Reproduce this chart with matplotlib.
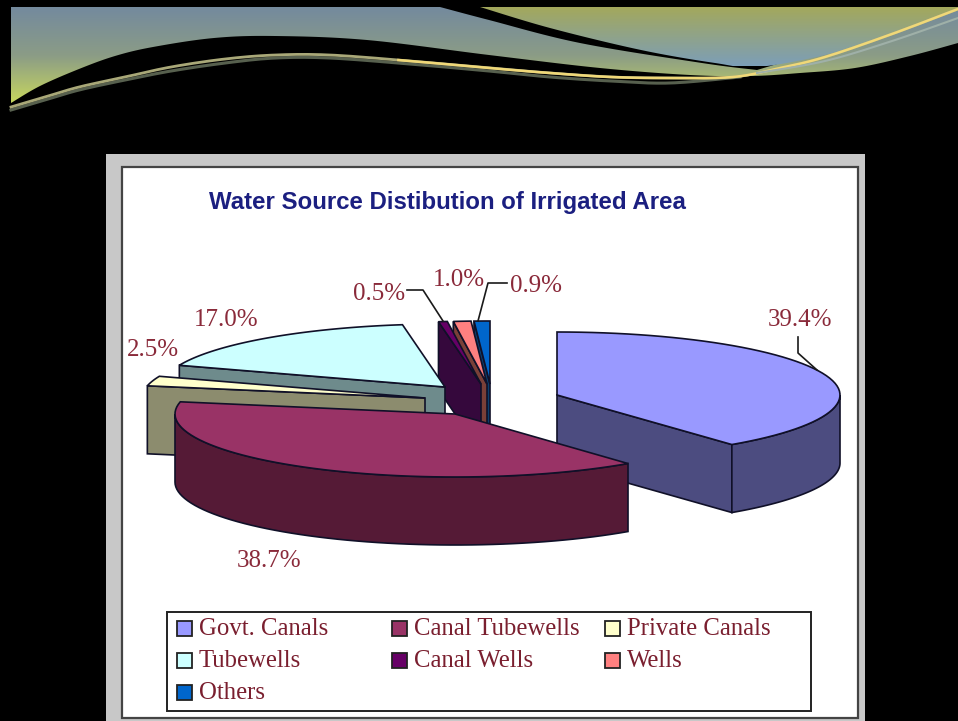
# Water source pie slide, exploded 3D look drawn by hand
import numpy as np
import matplotlib
matplotlib.use("Agg")
import matplotlib.pyplot as plt
from matplotlib.patches import Polygon, Rectangle
from matplotlib.colors import LinearSegmentedColormap

# chart data
categories = ["Govt. Canals", "Canal Tubewells", "Private Canals",
              "Tubewells", "Canal Wells", "Wells", "Others"]
shares = [39.4, 38.7, 2.5, 17.0, 0.5, 1.0, 0.9]
share_labels = ["39.4%", "38.7%", "2.5%", "17.0%", "0.5%", "1.0%", "0.9%"]
top_colors = ["#9999ff", "#993366", "#ffffcc", "#ccffff", "#660066", "#ff8080", "#0066cc"]
wall_colors = ["#4c4c80", "#551a36", "#8c8c6e", "#6e8b8c", "#35083c", "#7a4038", "#0a3f6e"]

# layout of the exploded slices, pixels
apex = [(557, 395), (455, 414), (425, 398), (445, 387), (481, 384), (487, 384), (490, 384)]
radius_x = [283, 280, 283, 283, 283, 283, 283]
RY, DEPTH = 63, 68
draw_order = [6, 5, 4, 3, 2, 0, 1]
label_pos = [(800, 319), (269, 560), (153, 349), (226, 319), (379, 293), (459, 279), (536, 285)]
INK = "#101028"
LABEL = "#8a2a3a"
SERIF = "Liberation Serif"

fig = plt.figure(figsize=(9.58, 7.21), dpi=100, facecolor="black")
ax = fig.add_axes([0, 0, 1, 1])
ax.set_xlim(0, 958)
ax.set_ylim(721, 0)
ax.axis("off")


def smooth(pts, n=14):
    # catmull-rom through the points
    pts = np.array(pts, float)
    p = np.vstack([pts[0], pts, pts[-1]])
    out = []
    for i in range(1, len(p) - 2):
        t = np.linspace(0, 1, n, endpoint=False)[:, None]
        out.append(0.5 * (2 * p[i] + (p[i + 1] - p[i - 1]) * t
                          + (2 * p[i - 1] - 5 * p[i] + 4 * p[i + 1] - p[i + 2]) * t ** 2
                          + (3 * p[i] - p[i - 1] - 3 * p[i + 1] + p[i + 2]) * t ** 3))
    out.append(pts[-1:])
    return np.vstack(out)


def gradient_shape(outline, colors, y0, y1, z):
    cmap = LinearSegmentedColormap.from_list("g", colors)
    im = ax.imshow(np.linspace(0, 1, 200)[:, None], cmap=cmap, aspect="auto",
                   extent=(0, 958, y1, y0), zorder=z)
    ax.set_xlim(0, 958)
    ax.set_ylim(721, 0)
    clip = Polygon(outline, closed=True, transform=ax.transData, fc="none", ec="none")
    ax.add_patch(clip)
    im.set_clip_path(clip)


# header waves
a_top = smooth([(440, 7), (489, 20), (580, 43), (702, 63), (757, 70)])
a_low = smooth([(11, 103), (40, 86), (79, 69), (115, 56), (153, 47), (214, 38), (275, 36),
                (367, 40), (489, 55), (600, 68), (690, 75), (751, 76), (800, 73), (855, 68),
                (910, 56), (958, 43)])
wave_a = np.vstack([[(11, 7)], a_top, [(958, 10)], a_low[::-1]])
gradient_shape(wave_a, ["#748a9e", "#8b9c86", "#c8d85e"], 7, 104, 1)

b_low = smooth([(480, 7), (550, 28), (641, 50), (715, 63), (757, 67), (825, 55), (892, 35), (958, 8)])
wave_b = np.vstack([b_low, [(958, 7)]])
gradient_shape(wave_b, ["#a3a85c", "#7c9eb8"], 7, 66, 2)

# ribbon along the bottom of the waves
strip = smooth([(757, 67), (825, 55), (892, 35), (958, 12)])
ribbon = smooth([(11, 107), (45, 97), (79, 87), (125, 77), (171, 67), (225, 59), (275, 55),
                 (330, 55), (410, 61), (489, 68), (550, 73), (611, 77), (670, 78), (733, 77),
                 (780, 68), (825, 57), (892, 34), (958, 9)])
shadow = smooth([(11, 110), (45, 100), (79, 90), (125, 80), (171, 71), (225, 63), (275, 58),
                 (330, 58), (410, 64), (489, 71), (550, 77), (611, 81), (670, 83), (740, 77)])
ax.plot(shadow[:, 0], shadow[:, 1], color="#57604e", lw=2.2, zorder=3)
ax.plot(ribbon[:, 0], ribbon[:, 1], color="#a9a878", lw=2.0, zorder=4)
ax.plot(ribbon[110:, 0], ribbon[110:, 1], color="#f0d878", lw=1.8, zorder=4)
ax.plot(strip[:, 0], strip[:, 1] + 6, color="#9fb0a8", lw=1.5, zorder=4)

# panel with the pasted chart
ax.add_patch(Rectangle((106, 154), 759, 567, fc="#c8c8c8", ec="none", zorder=5))
ax.add_patch(Rectangle((122, 167), 736, 551, fc="white", ec="#444444", lw=1.6, zorder=6))

ax.text(209, 202, "Water Source Distibution of Irrigated Area", family="Liberation Sans",
        weight="bold", fontsize=17.3, color="#1b1f80", va="center", ha="left", zorder=7)


def rim(i, a0, a1, n=60):
    th = np.radians(np.linspace(a0, a1, n))
    return np.column_stack([apex[i][0] + radius_x[i] * np.sin(th), apex[i][1] - RY * np.cos(th)])


# angles clockwise from twelve o'clock, taken from the shares
edges = np.concatenate([[0], np.cumsum(shares)]) / np.sum(shares) * 360
z = 10
for i in draw_order:
    a0, a1 = edges[i], edges[i + 1]
    tip = np.array([apex[i]], float)
    down = np.array([0, DEPTH])
    if a1 <= 180:
        # cut face at the end angle
        end = rim(i, a1, a1, 1)
        face = np.vstack([tip, end, end + down, tip + down])
        ax.add_patch(Polygon(face, fc=wall_colors[i], ec=INK, lw=1.2, zorder=z))
    if a0 >= 180:
        # cut face at the start angle
        start = rim(i, a0, a0, 1)
        face = np.vstack([tip, start, start + down, tip + down])
        ax.add_patch(Polygon(face, fc=wall_colors[i], ec=INK, lw=1.2, zorder=z))
    lo, hi = max(a0, 90), min(a1, 270)
    if lo < hi:
        arc = rim(i, lo, hi)
        ax.add_patch(Polygon(np.vstack([arc, arc[::-1] + down]), fc=wall_colors[i],
                             ec=INK, lw=1.2, zorder=z))
    ax.add_patch(Polygon(np.vstack([tip, rim(i, a0, a1)]), fc=top_colors[i], ec=INK,
                         lw=1.2, zorder=z + 1))
    z += 2

# leader lines
for xs, ys in [([407, 423, 443], [290, 290, 321]),
               ([507, 488, 478], [283, 283, 321]),
               ([798, 798, 817], [337, 353, 370])]:
    ax.plot(xs, ys, color="#1a1a1a", lw=1.2, zorder=40)

for (x, y), s in zip(label_pos, share_labels):
    ax.text(x, y + 1, s, family=SERIF, fontsize=18, color=LABEL, ha="center", va="center", zorder=41)

# legend box
ax.add_patch(Rectangle((167, 612), 644, 99, fc="white", ec="#222222", lw=1.4, zorder=7))
col_x = [177, 392, 605, 177, 392, 605, 177]
row_y = [628, 628, 628, 660, 660, 660, 692]
for i, name in enumerate(categories):
    ax.add_patch(Rectangle((col_x[i], row_y[i] - 7), 15, 15, fc=top_colors[i],
                           ec="#222222", lw=1.3, zorder=8))
    ax.text(col_x[i] + 22, row_y[i] + 1, name, family=SERIF, fontsize=17.8, color="#7a1f2f",
            ha="left", va="center", zorder=8)

fig.savefig("out.png", dpi=100, facecolor="black")
